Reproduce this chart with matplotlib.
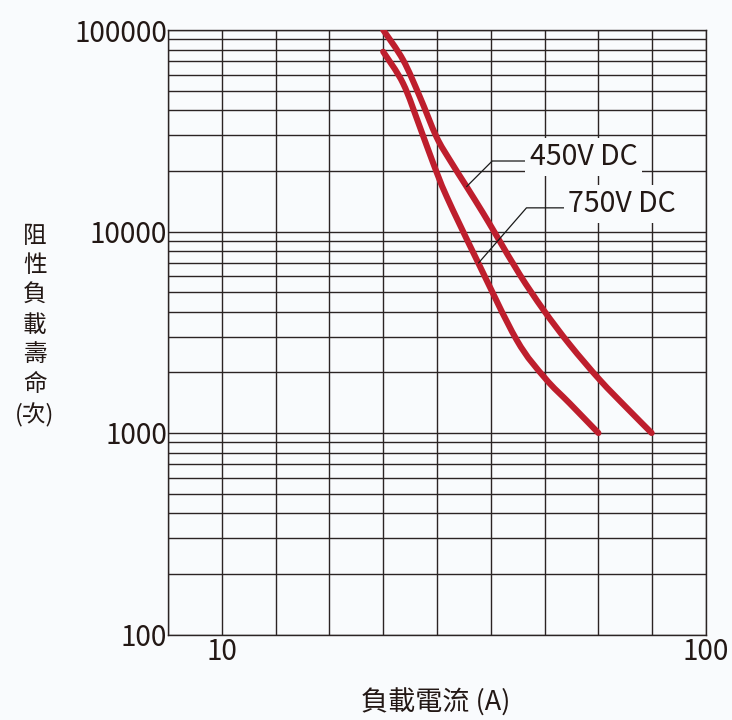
import matplotlib
matplotlib.use('Agg')
import matplotlib.pyplot as plt
import numpy as np
from matplotlib.ticker import FixedLocator, FixedFormatter, NullFormatter, LogLocator
from matplotlib.path import Path
from matplotlib.patches import PathPatch

plt.rcParams['font.family'] = ['Noto Sans CJK TC', 'DejaVu Sans']
plt.rcParams['font.weight'] = 'light'

# ---- data ----
current_450 = [40.0, 43.7, 46.8, 49.9, 52.4, 55.5, 58.6, 61.1, 65.4, 69.8, 74.7, 80.3, 85.3, 89.9]
life_450 = [100000, 71000, 46700, 29500, 22600, 16700, 12300, 9500, 6100, 4080, 2740, 1830, 1330, 1000]

current_750 = [40.0, 43.7, 46.8, 49.3, 51.8, 57.4, 64.8, 70.1, 74.7, 80.0]
life_750 = [78000, 54300, 33100, 21800, 14900, 7230, 2900, 1870, 1400, 1000]

series_labels = ['450V DC', '750V DC']
x_tick_values = [10, 100]
x_tick_labels = ['10', '100']
y_tick_values = [100, 1000, 10000, 100000]
y_tick_labels = ['100', '1000', '10000', '100000']
x_label = '負載電流 (A)'
y_label = '阻\n性\n負\n載\n壽\n命\n(次)'

BG = '#f9fbfd'
GRID = '#2b2424'
RED = '#be1e2d'
TXT = '#231815'

fig = plt.figure(figsize=(7.32, 7.2), dpi=100, facecolor=BG)
ax = fig.add_axes([168 / 732, 1 - 634.5 / 720, 538 / 732, (634.5 - 30) / 720])
ax.set_facecolor(BG)

ax.set_xlim(0, 100)
ax.set_yscale('log')
ax.set_ylim(100, 100000)

# ticks / grid
ax.xaxis.set_major_locator(FixedLocator(x_tick_values))
ax.xaxis.set_major_formatter(FixedFormatter(x_tick_labels))
ax.xaxis.set_minor_locator(FixedLocator(np.arange(0, 101, 10)))
ax.xaxis.set_minor_formatter(NullFormatter())
ax.yaxis.set_major_locator(FixedLocator(y_tick_values))
ax.yaxis.set_major_formatter(FixedFormatter(y_tick_labels))
ax.yaxis.set_minor_locator(LogLocator(base=10, subs=np.arange(2, 10)))
ax.yaxis.set_minor_formatter(NullFormatter())
ax.tick_params(which='both', length=0, labelsize=20, colors=TXT)
ax.tick_params(axis='y', pad=0.5)
ax.tick_params(axis='x', pad=2)
ax.grid(which='both', color=GRID, lw=1.0)
ax.set_axisbelow(True)
for s in ax.spines.values():
    s.set_color(GRID)
    s.set_linewidth(1.0)


# smooth curve through the read points (Catmull-Rom rendered as cubic Bezier
# in (x, log10 y) space, which maps affinely to the screen)
def smooth_path(xs, ys):
    p = np.column_stack([np.asarray(xs, float), np.log10(ys)])
    p_ext = np.vstack([p[0], p, p[-1]])
    verts = [p[0]]
    codes = [Path.MOVETO]
    for i in range(1, len(p_ext) - 2):
        p0, p1, p2, p3 = p_ext[i - 1], p_ext[i], p_ext[i + 1], p_ext[i + 2]
        c1 = p1 + (p2 - p0) / 6.0
        c2 = p2 - (p3 - p1) / 6.0
        verts += [c1, c2, p2]
        codes += [Path.CURVE4] * 3
    verts = np.array(verts)
    verts[:, 1] = 10 ** verts[:, 1]
    return Path(verts, codes)


for xs, ys in [(current_450, life_450), (current_750, life_750)]:
    ax.add_patch(PathPatch(smooth_path(xs, ys), fill=False, ec=RED, lw=4.4,
                           capstyle='round', joinstyle='round', zorder=3))


# annotations with leader lines
def on_curve(xs, ys, x):
    return 10 ** np.interp(x, xs, np.log10(ys))


ann = [
    (series_labels[0], current_450, life_450, 55.5, (67.2, 23400), 45),
    (series_labels[1], current_750, life_750, 57.7, (74.4, 13700), 49),
]
for text, xs, ys, xa, xyt, angb in ann:
    ax.annotate(text, xy=(xa, on_curve(xs, ys, xa)), xytext=xyt,
                ha='left', va='center', fontsize=20.5, color=TXT,
                bbox=dict(boxstyle='square,pad=0.15', fc=BG, ec='none'),
                arrowprops=dict(arrowstyle='-', color='#1a1a1a', lw=0.9,
                                connectionstyle=f'angle,angleA=0,angleB={angb},rad=0',
                                relpos=(0, 0.37), shrinkA=0, shrinkB=0),
                zorder=4)

fig.text(436 / 732, 1 - 703 / 720, x_label, ha='center', va='center', fontsize=19.5, color=TXT)
fig.text(35 / 732, 1 - 326 / 720, y_label, ha='center', va='center', fontsize=17,
         linespacing=1.37, color=TXT)

fig.savefig('out.png', dpi=100, facecolor=BG)
